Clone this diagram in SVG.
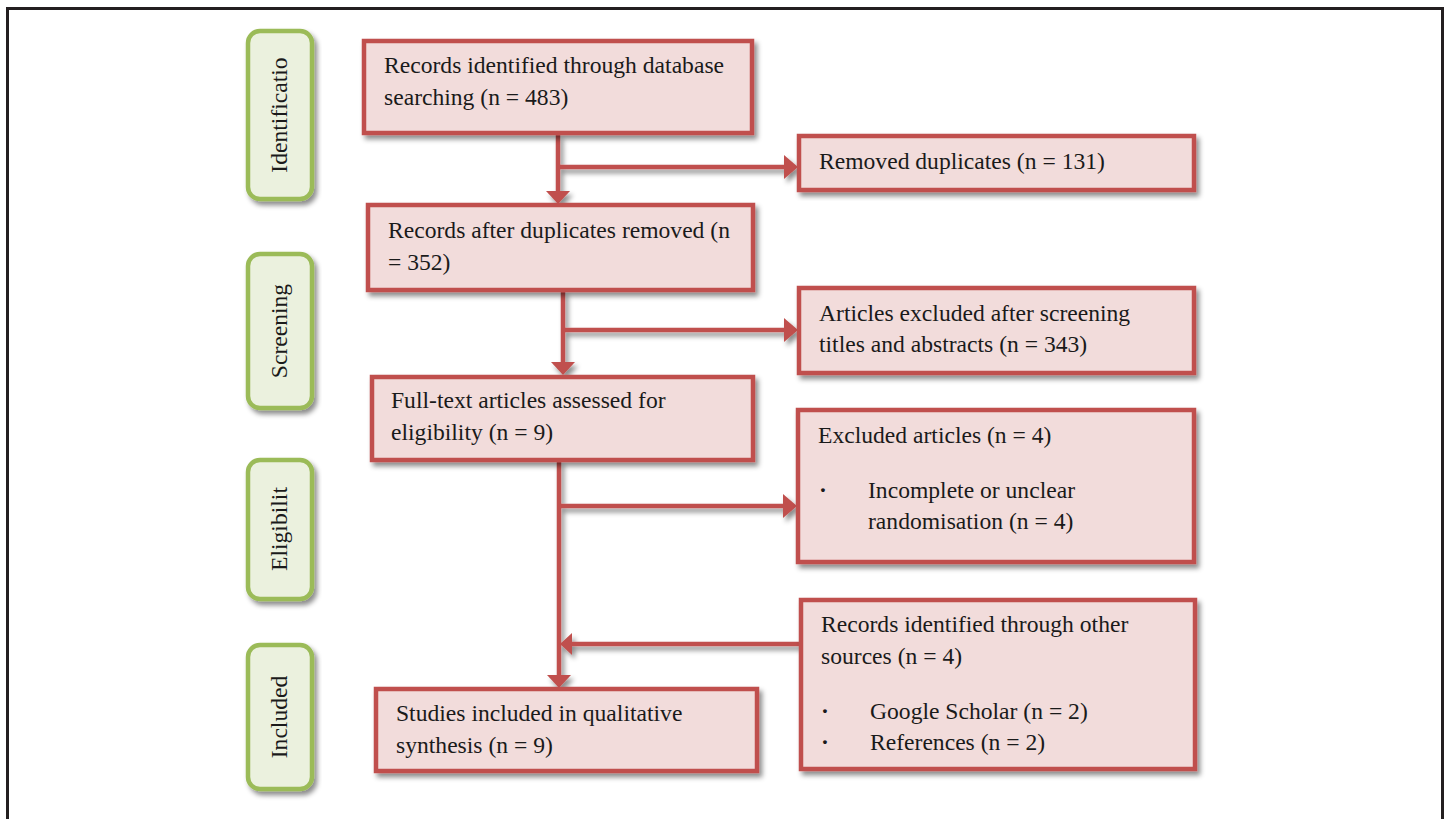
<svg xmlns="http://www.w3.org/2000/svg" width="1447" height="819" viewBox="0 0 1447 819">
<defs>
<filter id="sh" x="-10%" y="-10%" width="125%" height="130%">
<feDropShadow dx="3" dy="4" stdDeviation="2.5" flood-color="#000" flood-opacity="0.45"/>
</filter>
<style>
.rb{fill:#f2dcdb;stroke:#c0504d;stroke-width:4.5;filter:url(#sh)}
.gb{fill:#ebf1de;stroke:#9bbb59;stroke-width:4.5;filter:url(#sh)}
.t{font-family:"Liberation Serif","Times New Roman",serif;font-size:23.6px;fill:#1a1a1a}
.b{font-weight:bold}
.ln{stroke:#c0504d;stroke-width:4.5;fill:none}
.ah{fill:#c0504d}
</style>
</defs>
<rect x="0" y="0" width="1447" height="819" fill="#fff"/>
<rect x="7.5" y="8.5" width="1435" height="900" fill="none" stroke="#231f20" stroke-width="3"/>

<g id="connectors" filter="url(#sh)">
<path class="ln" d="M558 135 V192 M558 167 H785"/>
<polygon class="ah" points="546,191 570,191 558,204"/>
<polygon class="ah" points="784,155 784,179 798,167"/>
<path class="ln" d="M563 291 V363 M563 330 H785"/>
<polygon class="ah" points="551,362 575,362 563,375"/>
<polygon class="ah" points="784,318 784,342 798,330"/>
<path class="ln" d="M559 461 V676 M559 506 H784 M800 644 H570"/>
<polygon class="ah" points="547,675 571,675 559,688"/>
<polygon class="ah" points="783,494 783,518 797,506"/>
<polygon class="ah" points="572,633 572,655 560,644"/>
</g>

<g id="stage-identification">
<rect class="gb" x="248" y="31" width="64" height="168" rx="12"/>
<text class="t" text-anchor="middle" transform="translate(287,115) rotate(-90)">Identificatio</text>
</g>
<g id="stage-screening">
<rect class="gb" x="248" y="254" width="64" height="154" rx="12"/>
<text class="t" text-anchor="middle" transform="translate(287,331) rotate(-90)">Screening</text>
</g>
<g id="stage-eligibility">
<rect class="gb" x="248" y="460" width="64" height="139" rx="12"/>
<text class="t" text-anchor="middle" transform="translate(287,529) rotate(-90)">Eligibilit</text>
</g>
<g id="stage-included">
<rect class="gb" x="248" y="645" width="64" height="144" rx="12"/>
<text class="t" text-anchor="middle" transform="translate(287,717) rotate(-90)">Included</text>
</g>

<g id="n1">
<rect class="rb" x="364" y="41" width="388" height="92"/>
<text class="t" x="384" y="73">Records identified through database</text>
<text class="t" x="384" y="105">searching (n = 483)</text>
</g>
<g id="n2">
<rect class="rb" x="799" y="136" width="395" height="54"/>
<text class="t" x="819" y="169">Removed duplicates (n = 131)</text>
</g>
<g id="n3">
<rect class="rb" x="368" y="205" width="385" height="85"/>
<text class="t" x="388" y="238">Records after duplicates removed (n</text>
<text class="t" x="388" y="270">= 352)</text>
</g>
<g id="n4">
<rect class="rb" x="799" y="288" width="395" height="85"/>
<text class="t" x="819" y="321">Articles excluded after screening</text>
<text class="t" x="819" y="352">titles and abstracts (n = 343)</text>
</g>
<g id="n5">
<rect class="rb" x="372" y="377" width="381" height="83"/>
<text class="t" x="391" y="408">Full-text articles assessed for</text>
<text class="t" x="391" y="440">eligibility (n = 9)</text>
</g>
<g id="n6">
<rect class="rb" x="798" y="410" width="396" height="152"/>
<text class="t" x="818" y="443">Excluded articles (n = 4)</text>
<text class="t b" x="819" y="498">·</text>
<text class="t" x="868" y="498">Incomplete or unclear</text>
<text class="t" x="868" y="529">randomisation (n = 4)</text>
</g>
<g id="n7">
<rect class="rb" x="801" y="600" width="394" height="169"/>
<text class="t" x="821" y="632">Records identified through other</text>
<text class="t" x="821" y="664">sources (n = 4)</text>
<text class="t b" x="821" y="719">·</text>
<text class="t" x="870" y="719">Google Scholar (n = 2)</text>
<text class="t b" x="821" y="750">·</text>
<text class="t" x="870" y="750">References (n = 2)</text>
</g>
<g id="n8">
<rect class="rb" x="376" y="689" width="381" height="82"/>
<text class="t" x="396" y="721">Studies included in qualitative</text>
<text class="t" x="396" y="753">synthesis (n = 9)</text>
</g>
</svg>
